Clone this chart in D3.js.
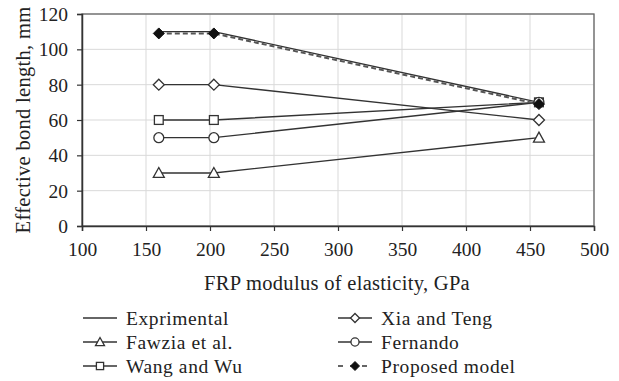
<!DOCTYPE html>
<html>
<head>
<meta charset="utf-8">
<script src="https://cdn.jsdelivr.net/npm/d3@7"></script>
<style>
  html, body { margin: 0; padding: 0; background: #fff; }
  svg text { font-family: "Liberation Serif", "DejaVu Serif", serif; fill: #222; }
</style>
</head>
<body>
<svg id="chart" width="619" height="381"></svg>
<script>
// FRP modulus of elasticity (GPa) for the three specimens
const modulus = [160, 203, 457];

// Effective bond length (mm) per model
const experimental = [110, 110, 70];
const xiaTeng = [80, 80, 60];
const fawzia = [30, 30, 50];
const fernando = [50, 50, 70];
const wangWu = [60, 60, 70];
const proposed = [109, 109, 69];

const xTicks = [100, 150, 200, 250, 300, 350, 400, 450, 500];
const yTicks = [0, 20, 40, 60, 80, 100, 120];

const series = [
  { name: "Exprimental", values: experimental, marker: "none", dash: null },
  { name: "Fawzia et al.", values: fawzia, marker: "triangle", dash: null },
  { name: "Wang and Wu", values: wangWu, marker: "square", dash: null },
  { name: "Xia and Teng", values: xiaTeng, marker: "diamond", dash: null },
  { name: "Fernando", values: fernando, marker: "circle", dash: null },
  { name: "Proposed model", values: proposed, marker: "filledDiamond", dash: "5,3" }
];

const svg = d3.select("#chart");
const m = { left: 82, right: 594, top: 14, bottom: 226 };

const x = d3.scaleLinear().domain([100, 500]).range([m.left, m.right]);
const y = d3.scaleLinear().domain([0, 120]).range([m.bottom, m.top]);

// grid
const grid = svg.append("g");
grid.selectAll("line.v").data(xTicks).join("line")
  .attr("x1", d => x(d)).attr("x2", d => x(d))
  .attr("y1", m.top).attr("y2", m.bottom)
  .attr("stroke", "#d9d9d9").attr("stroke-width", 1);
grid.selectAll("line.h").data(yTicks).join("line")
  .attr("x1", m.left).attr("x2", m.right)
  .attr("y1", d => y(d)).attr("y2", d => y(d))
  .attr("stroke", "#d9d9d9").attr("stroke-width", 1);

// plot frame
svg.append("rect")
  .attr("x", m.left).attr("y", m.top)
  .attr("width", m.right - m.left).attr("height", m.bottom - m.top)
  .attr("fill", "none").attr("stroke", "#666").attr("stroke-width", 1.3);

// axes
const xAxis = svg.append("g").attr("transform", `translate(0,${m.bottom})`)
  .call(d3.axisBottom(x).tickValues(xTicks).tickSize(5).tickPadding(11).tickFormat(d3.format("d")));
const yAxis = svg.append("g").attr("transform", `translate(${m.left},0)`)
  .call(d3.axisLeft(y).tickValues(yTicks).tickSize(5).tickPadding(9).tickFormat(d3.format("d")));
[xAxis, yAxis].forEach(a => {
  a.select(".domain").attr("stroke", "#333").attr("stroke-width", 1.5);
  a.selectAll(".tick line").attr("stroke", "#333").attr("stroke-width", 1.2);
  a.selectAll(".tick text").attr("font-size", 19.5).attr("fill", "#222")
    .attr("font-family", "'Liberation Serif', serif");
});
yAxis.selectAll(".tick text").attr("dy", "0.34em");

// axis titles
svg.append("text")
  .attr("x", 337).attr("y", 290)
  .attr("text-anchor", "middle").attr("font-size", 20.5).attr("letter-spacing", 0.3)
  .text("FRP modulus of elasticity, GPa");
svg.append("text")
  .attr("transform", `translate(30,120) rotate(-90)`)
  .attr("text-anchor", "middle").attr("font-size", 20.5).attr("letter-spacing", 0.3)
  .text("Effective bond length, mm");

// marker drawing
function drawMarker(g, type, cx, cy, s) {
  const st = "#333";
  if (type === "triangle") {
    g.append("path").attr("d", `M${cx},${cy - s}L${cx + s},${cy + s * 0.8}L${cx - s},${cy + s * 0.8}Z`)
      .attr("fill", "#fff").attr("stroke", st).attr("stroke-width", 1.3);
  } else if (type === "square") {
    g.append("rect").attr("x", cx - s * 0.8).attr("y", cy - s * 0.8)
      .attr("width", s * 1.6).attr("height", s * 1.6)
      .attr("fill", "#fff").attr("stroke", st).attr("stroke-width", 1.3);
  } else if (type === "diamond") {
    g.append("path").attr("d", `M${cx},${cy - s}L${cx + s},${cy}L${cx},${cy + s}L${cx - s},${cy}Z`)
      .attr("fill", "#fff").attr("stroke", st).attr("stroke-width", 1.3);
  } else if (type === "circle") {
    g.append("circle").attr("cx", cx).attr("cy", cy).attr("r", s * 0.9)
      .attr("fill", "#fff").attr("stroke", st).attr("stroke-width", 1.3);
  } else if (type === "filledDiamond") {
    g.append("path").attr("d", `M${cx},${cy - s}L${cx + s},${cy}L${cx},${cy + s}L${cx - s},${cy}Z`)
      .attr("fill", "#111").attr("stroke", "#111").attr("stroke-width", 1);
  }
}

const line = d3.line().x((d, i) => x(modulus[i])).y(d => y(d));
const plot = svg.append("g");
series.forEach(s => {
  plot.append("path").datum(s.values)
    .attr("d", line).attr("fill", "none")
    .attr("stroke", s.dash ? "#555" : "#333").attr("stroke-width", s.dash ? 2 : 1.4)
    .attr("stroke-dasharray", s.dash);
});
series.forEach(s => {
  s.values.forEach((v, i) => drawMarker(plot, s.marker, x(modulus[i]), y(v), 5.5));
});

// legend
const legendCols = [83, 338];
const legendRows = [318, 342, 366];
series.forEach((s, i) => {
  const col = Math.floor(i / 3), row = i % 3;
  const lx = legendCols[col], ly = legendRows[row];
  const g = svg.append("g");
  g.append("line").attr("x1", lx).attr("x2", lx + 34).attr("y1", ly).attr("y2", ly)
    .attr("stroke", "#333").attr("stroke-width", 1.4)
    .attr("stroke-dasharray", s.dash ? "5,7" : null);
  drawMarker(g, s.marker, lx + 17, ly, 4.5);
  g.append("text").attr("x", lx + 43).attr("y", ly + 6.5)
    .attr("font-size", 19.5).attr("letter-spacing", 0.6).text(s.name);
});
</script>
</body>
</html>
